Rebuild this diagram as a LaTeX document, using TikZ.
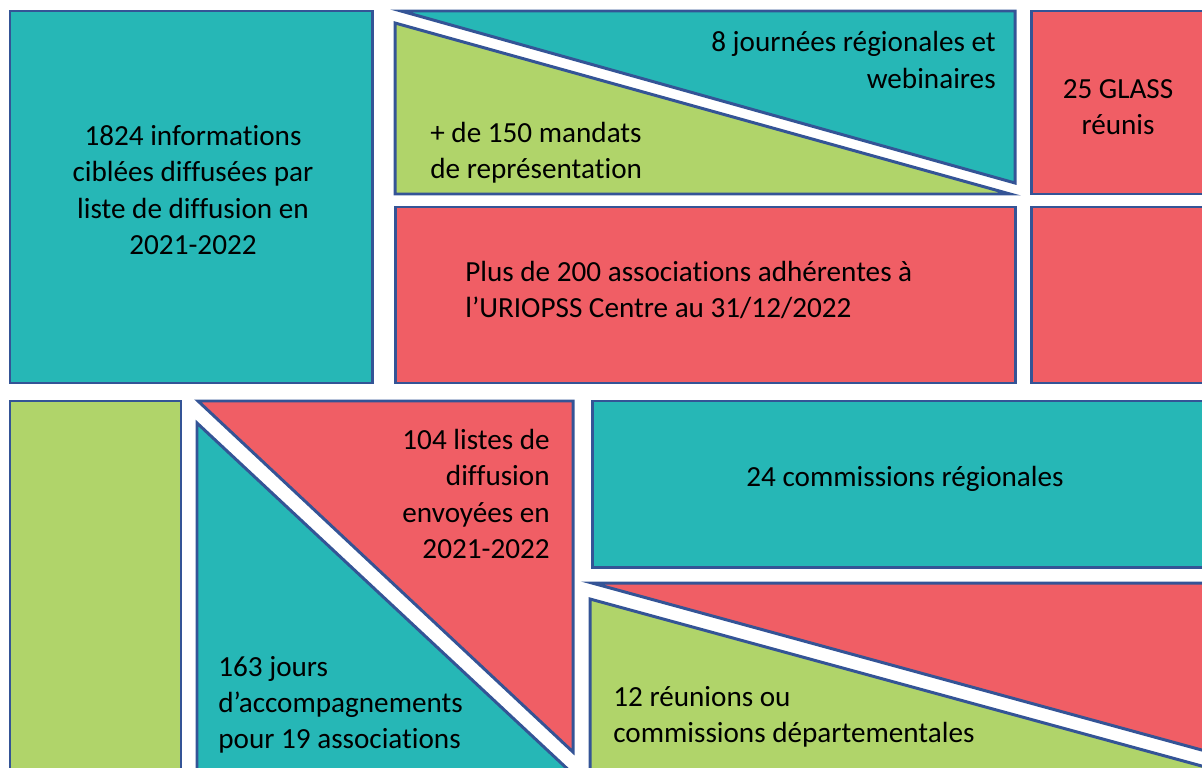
\documentclass[tikz,border=0pt]{standalone}
\usepackage{fontspec}
\setmainfont[Ligatures=NoCommon]{Carlito}
\definecolor{tileblue}{RGB}{52,84,150}
\definecolor{tileteal}{RGB}{38,183,182}
\definecolor{tilegreen}{RGB}{176,212,106}
\definecolor{tilered}{RGB}{240,94,101}
\tikzset{every picture/.style={/utils/exec={\fontsize{16.6}{20.6}\selectfont}}}

\begin{document}
\begin{tikzpicture}[x=0.02cm, y=-0.02cm,
    tile/.style={draw=tileblue, line width=1.7pt, line join=miter},
    figure/.style={inner sep=0pt, text=black}]
  \useasboundingbox (0,0) rectangle (1202,767);
  \clip (0,0) rectangle (1202,767);

  % top half
  \draw [tile, fill=tileteal] (10,11) rectangle (372,383);
  \draw [tile, fill=tileteal] (401,11) -- (1015,11) -- (1015,183) -- cycle;
  \draw [tile, fill=tilegreen] (395,23) -- (1010,194) -- (395,194) -- cycle;
  \draw [tile, fill=tilered] (395,207) rectangle (1015,383);
  \draw [tile, fill=tilered] (1031,11) rectangle (1220,194);
  \draw [tile, fill=tilered] (1031,207) rectangle (1220,383);

  % bottom half
  \draw [tile, fill=tilegreen] (10,401) rectangle (181,790);
  \draw [tile, fill=tilered] (198,401) -- (573,401) -- (573,752) -- cycle;
  \draw [tile, fill=tileteal] (197,423) -- (590,790) -- (197,790) -- cycle;
  \draw [tile, fill=tileteal] (592,401) rectangle (1220,567);
  \draw [tile, fill=tilered] (592,583) -- (1220,583) -- (1220,755) -- cycle;
  \draw [tile, fill=tilegreen] (590,599) -- (1220,771) -- (1220,790) -- (590,790) -- cycle;

  \node [figure, align=center] (infos) at (193,190) {1824 informations\\ciblées diffusées par\\liste de diffusion en\\2021-2022};
  \node [figure, align=right, anchor=east] (journees) at (996,60) {8 journées régionales et\\webinaires};
  \node [figure, align=center] (glass) at (1118,107) {25 GLASS\\réunis};
  \node [figure, align=left, anchor=west] (mandats) at (430,153) {+ de 150 mandats\\de représentation};
  \node [figure, align=left, anchor=west] (adherents) at (465,290) {Plus de 200 associations adhérentes à\\l’URIOPSS Centre au 31/12/2022};
  \node [figure, align=right, anchor=east] (listes) at (550,494) {104 listes de\\diffusion\\envoyées en\\2021-2022};
  \node [figure, align=center] (commissions) at (905,479) {24 commissions régionales};
  \node [figure, align=left, anchor=west] (jours) at (218,705) {163 jours\\d’accompagnements\\pour 19 associations};
  \node [figure, align=left, anchor=west] (reunions) at (613,717) {12 réunions ou\\commissions départementales};
\end{tikzpicture}
\end{document}
